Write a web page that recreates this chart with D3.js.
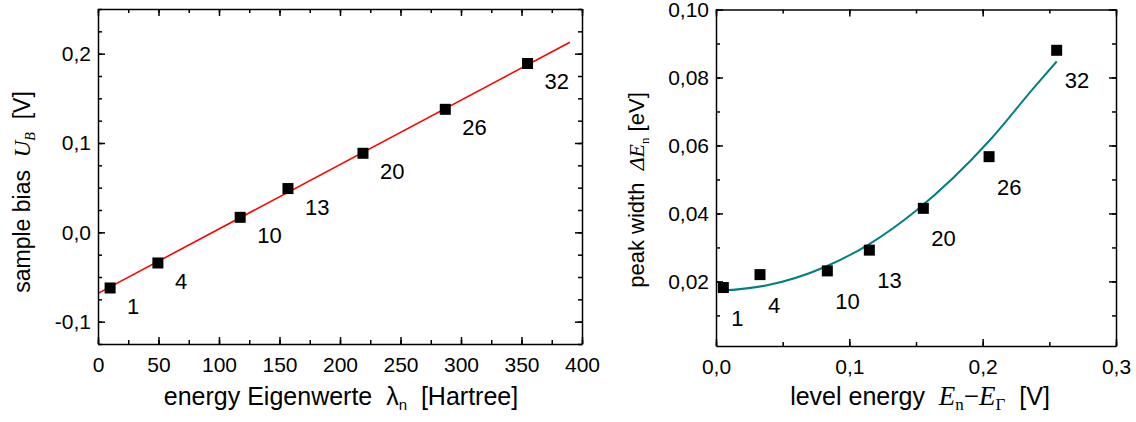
<!DOCTYPE html>
<html>
<head>
<meta charset="utf-8">
<script src="https://cdn.jsdelivr.net/npm/d3@7"></script>
<style>
  body { margin: 0; background: #fff; }
  text { font-family: "Liberation Sans", Arial, sans-serif; fill: #000; white-space: pre; }
  .axis path, .axis line { stroke: #000; stroke-width: 1.5; }
  .axis text { font-size: 21px; }
  .serif { font-family: "Liberation Serif", "Times New Roman", serif; }
</style>
</head>
<body>
<div class="graph"></div>
<script>
// level numbers shown next to each point
var levels = ["1", "4", "10", "13", "20", "26", "32"];

// left panel: sample bias vs. eigenvalue
var eigenvalues = [10, 49.5, 117.5, 157, 219, 287, 355];
var sampleBias = [-0.0623, -0.0343, 0.0168, 0.049, 0.0885, 0.1377, 0.189];
var biasFitX = [0, 390];
var biasFitY = [-0.0683, 0.2128];
var leftXTicks = [0, 50, 100, 150, 200, 250, 300, 350, 400];
var leftYTicks = [-0.1, 0.0, 0.1, 0.2];

// right panel: peak width vs. level energy
var levelEnergy = [0.0055, 0.033, 0.0835, 0.115, 0.1555, 0.2048, 0.2555];
var peakWidth = [0.0182, 0.0220, 0.0231, 0.0292, 0.0415, 0.0567, 0.0880];
var widthFitX = [0.005, 0.0375, 0.0825, 0.115, 0.150, 0.2055, 0.238, 0.2555];
var widthFitY = [0.0173, 0.0188, 0.0244, 0.0310, 0.0408, 0.0616, 0.0768, 0.0847];
var rightXTicks = [0.0, 0.1, 0.2, 0.3];
var rightYTicks = [0.02, 0.04, 0.06, 0.08, 0.10];

var svg = d3.select(".graph").append("svg")
    .attr("width", 1136)
    .attr("height", 422);

function comma(n) {
  return function(d) { return d.toFixed(n).replace(".", ","); };
}

function minorTicks(lo, hi, step) {
  var out = [];
  for (var v = lo; v <= hi + step / 2; v += step) out.push(+v.toFixed(6));
  return out;
}

function frame(x, y, xMajor, xMinor, yMajor, yMinor, xFmt, yFmt) {
  var x0 = x.range()[0], x1 = x.range()[1];
  var y0 = y.range()[0], y1 = y.range()[1];

  // minor ticks on all four sides
  [[d3.axisBottom(x), y0, "x"], [d3.axisTop(x), y1, "x"],
   [d3.axisLeft(y), x0, "y"], [d3.axisRight(y), x1, "y"]].forEach(function(a) {
    var ax = a[0].tickValues(a[2] == "x" ? xMinor : yMinor).tickSize(-4).tickFormat("");
    svg.append("g")
      .attr("class", "axis")
      .attr("transform", a[2] == "x" ? "translate(0," + a[1] + ")" : "translate(" + a[1] + ",0)")
      .call(ax)
      .select(".domain").remove();
  });

  svg.append("g").attr("class", "axis")
    .attr("transform", "translate(0," + y0 + ")")
    .call(d3.axisBottom(x).tickValues(xMajor).tickSizeInner(-7).tickSizeOuter(0).tickPadding(13).tickFormat(xFmt));
  svg.append("g").attr("class", "axis")
    .attr("transform", "translate(0," + y1 + ")")
    .call(d3.axisTop(x).tickValues(xMajor).tickSizeInner(-7).tickSizeOuter(0).tickFormat(""));
  svg.append("g").attr("class", "axis")
    .attr("transform", "translate(" + x0 + ",0)")
    .call(d3.axisLeft(y).tickValues(yMajor).tickSizeInner(-7).tickSizeOuter(0).tickPadding(7).tickFormat(yFmt));
  svg.append("g").attr("class", "axis")
    .attr("transform", "translate(" + x1 + ",0)")
    .call(d3.axisRight(y).tickValues(yMajor).tickSizeInner(-7).tickSizeOuter(0).tickFormat(""));
}

function squares(x, y, xs, ys) {
  svg.append("g").selectAll("rect")
    .data(xs)
  .enter().append("rect")
    .attr("x", function(d) { return x(d) - 5.5; })
    .attr("y", function(d, i) { return y(ys[i]) - 5.5; })
    .attr("width", 11)
    .attr("height", 11)
    .style("fill", "#000");
}

function numbers(x, y, xs, ys, dx, dy) {
  svg.append("g").selectAll("text")
    .data(levels)
  .enter().append("text")
    .attr("x", function(d, i) { return x(xs[i]) + dx; })
    .attr("y", function(d, i) { return y(ys[i]) + dy; })
    .style("font-size", "22px")
    .text(function(d) { return d; });
}

// ---- left panel ----
var xL = d3.scaleLinear().domain([0, 400]).range([98, 582]);
var yL = d3.scaleLinear().domain([-0.125, 0.25]).range([344, 9]);

var lineL = d3.line()
    .x(function(d) { return xL(d[0]); })
    .y(function(d) { return yL(d[1]); });

svg.append("path")
    .datum(d3.zip(biasFitX, biasFitY))
    .attr("d", lineL)
    .style("fill", "none")
    .style("stroke", "#f00")
    .style("stroke-width", 1.6);

squares(xL, yL, eigenvalues, sampleBias);
numbers(xL, yL, eigenvalues, sampleBias, 17, 26);
frame(xL, yL, leftXTicks, minorTicks(0, 400, 25), leftYTicks, minorTicks(-0.125, 0.25, 0.025), d3.format("d"), comma(1));

var tL = svg.append("text")
    .attr("x", 341).attr("y", 405)
    .attr("text-anchor", "middle")
    .style("font-size", "25px");
tL.append("tspan").text("energy Eigenwerte  \u03bb");
tL.append("tspan").attr("dy", 5).style("font-size", "15px").text("n");
tL.append("tspan").attr("dy", -5).text("  [Hartree]");

var yLab = svg.append("text")
    .attr("transform", "translate(30,192) rotate(-90)")
    .attr("text-anchor", "middle")
    .style("font-size", "23px");
yLab.append("tspan").text("sample bias  ");
yLab.append("tspan").attr("class", "serif").style("font-style", "italic").text("U");
yLab.append("tspan").attr("class", "serif").style("font-style", "italic")
    .style("font-size", "14px").attr("dy", 5).text("B");
yLab.append("tspan").attr("dy", -5).text("  [V]");

// ---- right panel ----
var xR = d3.scaleLinear().domain([0, 0.3]).range([716, 1116]);
var yR = d3.scaleLinear().domain([0.001, 0.1]).range([346, 9.5]);

var lineR = d3.line()
    .curve(d3.curveMonotoneX)
    .x(function(d) { return xR(d[0]); })
    .y(function(d) { return yR(d[1]); });

svg.append("path")
    .datum(d3.zip(widthFitX, widthFitY))
    .attr("d", lineR)
    .style("fill", "none")
    .style("stroke", "#008080")
    .style("stroke-width", 2);

squares(xR, yR, levelEnergy, peakWidth);
numbers(xR, yR, levelEnergy, peakWidth, 8, 38);
frame(xR, yR, rightXTicks, minorTicks(0, 0.3, 0.05), rightYTicks, minorTicks(0.01, 0.1, 0.01), comma(1), comma(2));

var tR = svg.append("text")
    .attr("x", 920).attr("y", 405)
    .attr("text-anchor", "middle")
    .style("font-size", "25px");
tR.append("tspan").text("level energy  ");
tR.append("tspan").attr("class", "serif").style("font-style", "italic").style("font-size", "27px").text("E");
tR.append("tspan").attr("class", "serif").style("font-size", "17px").attr("dy", 5).text("n");
tR.append("tspan").attr("class", "serif").style("font-size", "27px").attr("dy", -5).text("\u2212");
tR.append("tspan").attr("class", "serif").style("font-style", "italic").style("font-size", "27px").text("E");
tR.append("tspan").attr("class", "serif").style("font-size", "17px").attr("dy", 5).text("\u0393");
tR.append("tspan").attr("dy", -5).text("  [V]");

var yRLab = svg.append("text")
    .attr("transform", "translate(644,190) rotate(-90)")
    .attr("text-anchor", "middle")
    .style("font-size", "22px");
yRLab.append("tspan").text("peak width  ");
yRLab.append("tspan").attr("class", "serif").style("font-style", "italic").text("\u0394E");
yRLab.append("tspan").attr("class", "serif").style("font-size", "13px").attr("dy", 5).text("n");
yRLab.append("tspan").attr("dy", -5).text(" [eV]");
</script>
</body>
</html>
